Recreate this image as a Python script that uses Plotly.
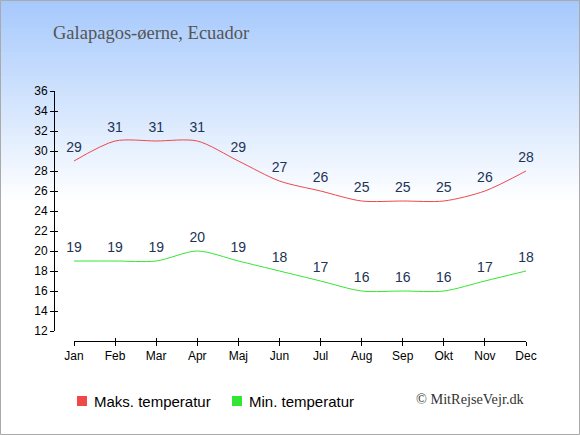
import plotly.graph_objects as go

months = ["Jan", "Feb", "Mar", "Apr", "Maj", "Jun", "Jul", "Aug", "Sep", "Okt", "Nov", "Dec"]
max_temp = [29, 31, 31, 31, 29, 27, 26, 25, 25, 25, 26, 28]
min_temp = [19, 19, 19, 20, 19, 18, 17, 16, 16, 16, 17, 18]
y_ticks = list(range(12, 37, 2))
series_names = ["Maks. temperatur", "Min. temperatur"]

W, H = 580, 435
# margins: y axis line sits at x=54, x axis line at y=341
ML, MR, MT, MB = 54, 54, 91, 94
pw, ph = W - ML - MR, H - MT - MB


def px_x(x):
    return (x - ML) / pw


def px_y(y):
    return (H - MB - y) / ph


red = "#f04848"
green = "#33e633"
label_col = "#223355"

fig = go.Figure()
for vals, col in [(max_temp, red), (min_temp, green)]:
    fig.add_trace(go.Scatter(x=months, y=vals, mode="lines+markers+text", text=vals,
                             textposition="top center", cliponaxis=False,
                             line=dict(color=col, width=1, shape="spline", smoothing=0.8),
                             marker=dict(size=7, color="rgba(0,0,0,0)"),
                             textfont=dict(size=14, color=label_col, family="Liberation Sans"),
                             showlegend=False, hoverinfo="skip"))

# background gradient: light blue at top fading to white near y=200px
shapes = []
n = 50
top = (166, 201, 252)
for i in range(n):
    y0 = i * 4
    f = i / n
    c = tuple(round(top[k] + (255 - top[k]) * f) for k in range(3))
    shapes.append(dict(type="rect", xref="paper", yref="paper", layer="below",
                       x0=px_x(0), x1=px_x(W), y0=px_y(y0), y1=px_y(y0 + 4.5),
                       fillcolor="rgb(%d,%d,%d)" % c, line=dict(width=0)))
# outer border
shapes.append(dict(type="rect", xref="paper", yref="paper", layer="above",
                   x0=px_x(0.5), x1=px_x(W - 0.5), y0=px_y(0.5), y1=px_y(H - 0.5),
                   line=dict(color="#aaaaaa", width=1)))

# legend drawn by hand: square + label
annotations = []
for name, col, sx in [(series_names[0], red, 77), (series_names[1], green, 232)]:
    shapes.append(dict(type="rect", xref="paper", yref="paper", x0=px_x(sx), x1=px_x(sx + 10),
                       y0=px_y(396), y1=px_y(406), fillcolor=col, line=dict(width=0)))
    annotations.append(dict(text=name, xref="paper", yref="paper", x=px_x(sx + 15), y=px_y(401),
                            xanchor="left", yanchor="middle", showarrow=False,
                            font=dict(size=15, color="black")))

annotations += [
    dict(text="Galapagos-øerne, Ecuador", xref="paper", yref="paper", x=px_x(51), y=px_y(33),
         xanchor="left", yanchor="middle", showarrow=False,
         font=dict(family="Liberation Serif", size=18.5, color="#555555")),
    dict(text="© MitRejseVejr.dk", xref="paper", yref="paper", x=px_x(527), y=px_y(399),
         xanchor="right", yanchor="middle", showarrow=False,
         font=dict(family="Liberation Serif", size=14.3, color="#333333")),
]

xdom = [px_x(74), 1]
ydom = [px_y(331), 1]
common = dict(showgrid=False, zeroline=False, tickcolor="black", fixedrange=True,
              anchor="free", position=0)

fig.update_layout(
    width=W, height=H,
    margin=dict(l=ML, r=MR, t=MT, b=MB, autoexpand=False),
    paper_bgcolor="white", plot_bgcolor="rgba(0,0,0,0)",
    font=dict(family="Liberation Sans", color="black"),
    showlegend=False,
    shapes=shapes,
    annotations=annotations,
    xaxis=dict(domain=xdom, range=[0, 11], showline=True, linecolor="black", linewidth=1,
               ticks="outside", ticklen=4, tickfont=dict(size=12, color="black"), **common),
    yaxis=dict(domain=ydom, range=[12, 36], tickvals=y_ticks, showline=True, linecolor="black",
               linewidth=1, ticks="outside", ticklen=4, tickfont=dict(size=12, color="black"),
               **common),
    # overlay axes only to make the tick marks cross the axis lines
    xaxis2=dict(domain=xdom, range=[0, 11], overlaying="x", tickvals=list(range(12)),
                showticklabels=False, ticks="inside", ticklen=3, **common),
    yaxis2=dict(domain=ydom, range=[12, 36], overlaying="y", tickvals=y_ticks,
                showticklabels=False, ticks="inside", ticklen=3, **common),
)
fig.add_trace(go.Scatter(x=[None], y=[None], xaxis="x2", yaxis="y2", showlegend=False,
                         hoverinfo="skip"))

# page body has a default 8px margin; drop it so the figure fills the window
fig.write_html("out.html", config={"displayModeBar": False},
               post_script="document.body.style.margin='0';")
